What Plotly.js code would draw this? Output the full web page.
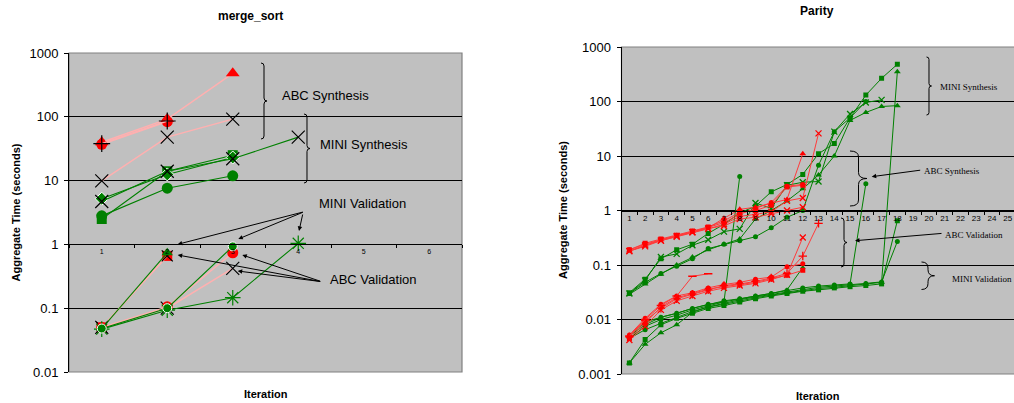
<!DOCTYPE html>
<html><head><meta charset="utf-8">
<script src="https://cdn.plot.ly/plotly-3.0.1.min.js"></script>
<style>html,body{margin:0;padding:0;background:#fff;}#chart{width:1014px;height:403px;}</style>
</head><body><div id="chart"></div>
<script>
// ---------- merge_sort data ----------
const msCats = ['1','2','3','4','5','6'];
const msTickVals = [0.01, 0.1, 1, 10, 100, 1000];
const msTickText = ['0.01','0.1','1','10','100','1000'];
// ABC Synthesis
const msAbcSynTriangle = [40, 92, 480];
const msAbcSynCircle = [37, 84];
const msAbcSynPlus = [38, 86];
const msAbcSynX = [9.9, 48, 92];
// MINI Synthesis
const msMiniSynSquare = [2.5, 14, 25];
const msMiniSynDiamond = [5.2, 12.5, 23];
const msMiniSynX = [4.7, 14, 22, 48];
const msMiniSynCircle = [2.8, 7.6, 11.9];
// MINI Validation
const msMiniValCircle = [0.048, 0.1, 0.93];
const msMiniValStar = [0.047, 0.093, 0.146, 1.04];
const msMiniValTriangle = [0.048, 0.74];
// ABC Validation
const msAbcValSquare = [0.05, 0.66];
const msAbcValCircle = [0.05, 0.105, 0.74];
const msAbcValX1 = [0.05, 0.1, 0.42];
const msAbcValX2 = [0.05, 0.66];

// ---------- Parity data ----------
const parCats = ['1','2','3','4','5','6','7','8','9','10','11','12','13','14','15','16','17','18','19','20','21','22','23','24','25'];
const parTickVals = [0.001, 0.01, 0.1, 1, 10, 100, 1000];
const parTickText = ['0.001','0.01','0.1','1','10','100','1000'];
// ABC Synthesis (red, upper)
const parAbcSyn1 = [0.18,0.23,0.29,0.34,0.41,0.48,0.72,1.05,1.15,1.35,1.6,11];
const parAbcSyn2 = [0.19,0.25,0.30,0.35,0.42,0.50,0.65,0.92,1.0,1.25,2.7,2.9];
const parAbcSyn3 = [0.18,0.22,0.28,0.33,0.40,0.46,0.56,0.78,0.85,0.95,1.5,1.7,26];
const parAbcSyn4 = [0.18,0.23,0.28,0.34,0.40,0.47,0.52,0.70,0.75,0.87,1.0,1.15];
const parAbcSyn5 = [0.19,0.24,0.29,0.35,0.41,0.49,0.60,0.85,1.1,1.4,2.8,3.0];
// MINI Synthesis (green, upper)
const parMiniSyn1 = [0.031,0.055,0.13,0.19,0.24,0.38,0.56,0.9,1.2,2.2,3.0,4.6,11,17,50,131,266,481];
const parMiniSyn2 = [0.030,0.052,0.14,0.16,0.23,0.29,0.41,0.46,1.37,1.1,2.9,3.3,3.4,28,59,96,107];
const parMiniSyn3 = [0.029,0.045,0.068,0.10,0.14,0.19,0.24,0.30,0.70,1.0,1.5,2.5,4.5,10,45,63,81,84];
const parMiniSyn4 = [0.030,0.048,0.07,0.095,0.13,0.2,0.24,0.28,0.33,0.48,0.75,1.0,6.8,28,50,100];
// ABC Validation (red, lower)
const parAbcVal1 = [0.0052,0.0105,0.019,0.027,0.031,0.038,0.044,0.048,0.055,0.06,0.093,0.105];
const parAbcVal2 = [0.0048,0.0095,0.016,0.024,0.029,0.035,0.042,0.045,0.05,0.058,0.07,0.146,0.58];
const parAbcVal3 = [0.0042,0.0075,0.015,0.022,0.027,0.033,0.038,0.042,0.046,0.054,0.066,0.32];
const parAbcVal4 = [0.0045,0.0085,0.017,0.025,0.030,0.036,0.040,0.044,0.048,0.056,0.065,0.08];
const parAbcVal5 = [0.005,0.01,0.018,0.027,0.062,0.069];
// MINI Validation (green, lower)
const parMiniVal1 = [0.0016,0.0043,0.008,0.0105,0.013,0.016,0.018,0.021,0.024,0.027,0.030,0.033,0.035,0.038,0.040,0.042,0.045,0.65];
const parMiniVal2 = [0.0016,0.0035,0.0057,0.008,0.0135,0.017,0.019,0.022,0.025,0.028,0.031,0.034,0.037,0.039,0.042,0.045,0.048,352];
const parMiniVal3 = [0.0045,0.0065,0.0085,0.011,0.014,0.017,0.020,0.023,0.026,0.029,0.032,0.036,0.039,0.041,0.044,0.046,0.049,0.27];
const parMiniVal4 = [0.005,0.009,0.011,0.013,0.016,0.019,0.022,0.024,0.027,0.030,0.034,0.038,0.041,0.043,0.045,3.1];
const parMiniVal5 = [0.0045,0.0075,0.01,0.012,0.015,0.018,0.021,4.2];
const parMiniVal6 = [0.005,0.008,0.011,0.013,0.016,0.019,0.021,0.024,0.027,0.030,0.035,0.09];

// ---------- helpers ----------
const W = 1014, H = 403;
const px = x => x / W;
const py = y => 1 - y / H;
const RED = '#ff0000', PINK = '#ffb0b0', GREEN = '#008000', PRED = '#ff3a3a';

function tr(cats, vals, xa, ya, lc, lw, sym, mc, ms, ml) {
  return {
    type: 'scatter', mode: 'lines+markers', showlegend: false, hoverinfo: 'skip',
    x: cats.slice(0, vals.length), y: vals, xaxis: xa, yaxis: ya,
    line: {color: lc, width: lw},
    marker: {symbol: sym, color: mc, size: ms, line: ml || {width: 0}}
  };
}
const blk = {color: 'black', width: 1.2};
const grnL = {color: GREEN, width: 1.2};
const white = {color: 'white', width: 1};

const data = [
  // merge_sort ABC synthesis
  tr(msCats, msAbcSynX, 'x', 'y', PINK, 1.5, 'x-thin-open', 'black', 13, blk),
  tr(msCats, msAbcSynCircle, 'x', 'y', PINK, 1.5, 'circle', RED, 11),
  tr(msCats, msAbcSynTriangle, 'x', 'y', PINK, 1.5, 'triangle-up', RED, 12),
  tr(msCats, msAbcSynPlus, 'x', 'y', PINK, 1.5, 'cross-thin-open', 'black', 12, blk),
  // merge_sort MINI synthesis
  tr(msCats, msMiniSynCircle, 'x', 'y', GREEN, 1.1, 'circle', GREEN, 11),
  tr(msCats, msMiniSynSquare, 'x', 'y', GREEN, 1.1, 'square', GREEN, 10),
  tr(msCats, msMiniSynDiamond, 'x', 'y', GREEN, 1.1, 'diamond', GREEN, 10, white),
  tr(msCats, msMiniSynX, 'x', 'y', GREEN, 1.1, 'x-thin-open', 'black', 13, blk),
  // merge_sort ABC validation
  tr(msCats, msAbcValSquare, 'x', 'y', PINK, 1.5, 'square', RED, 10),
  tr(msCats, msAbcValX2, 'x', 'y', PINK, 1.5, 'x-thin-open', 'black', 11, blk),
  tr(msCats, msAbcValX1, 'x', 'y', PINK, 1.5, 'x-thin-open', 'black', 13, blk),
  tr(msCats, msAbcValCircle, 'x', 'y', PINK, 1.5, 'circle', RED, 11),
  // merge_sort MINI validation
  tr(msCats, msMiniValTriangle, 'x', 'y', GREEN, 1.1, 'triangle-up', GREEN, 10),
  tr(msCats, msMiniValStar, 'x', 'y', GREEN, 1.1, 'asterisk-open', GREEN, 13, grnL),
  tr(msCats, msMiniValCircle, 'x', 'y', GREEN, 1.1, 'circle', GREEN, 9, white),

  // Parity MINI validation
  tr(parCats, parMiniVal1, 'x2', 'y2', GREEN, 1, 'square', GREEN, 5),
  tr(parCats, parMiniVal2, 'x2', 'y2', GREEN, 1, 'triangle-up', GREEN, 6),
  tr(parCats, parMiniVal3, 'x2', 'y2', GREEN, 1, 'circle', GREEN, 5),
  tr(parCats, parMiniVal4, 'x2', 'y2', GREEN, 1, 'circle', GREEN, 5),
  tr(parCats, parMiniVal5, 'x2', 'y2', GREEN, 1, 'circle', GREEN, 5),
  tr(parCats, parMiniVal6, 'x2', 'y2', GREEN, 1, 'triangle-up', GREEN, 5),
  // Parity ABC validation
  tr(parCats, parAbcVal1, 'x2', 'y2', PRED, 1, 'circle', RED, 5),
  tr(parCats, parAbcVal2, 'x2', 'y2', PRED, 1, 'cross-thin-open', RED, 6, {color: RED, width: 1.3}),
  tr(parCats, parAbcVal3, 'x2', 'y2', PRED, 1, 'x-thin-open', RED, 6, {color: RED, width: 1.3}),
  tr(parCats, parAbcVal4, 'x2', 'y2', PRED, 1, 'square', RED, 5),
  tr(parCats, parAbcVal5, 'x2', 'y2', PRED, 1, 'line-ew-open', RED, 6, {color: RED, width: 1.5}),
  // Parity MINI synthesis
  tr(parCats, parMiniSyn1, 'x2', 'y2', GREEN, 1, 'square', GREEN, 5),
  tr(parCats, parMiniSyn2, 'x2', 'y2', GREEN, 1, 'x-thin-open', GREEN, 6, {color: GREEN, width: 1.3}),
  tr(parCats, parMiniSyn3, 'x2', 'y2', GREEN, 1, 'triangle-up', GREEN, 6),
  tr(parCats, parMiniSyn4, 'x2', 'y2', GREEN, 1, 'circle', GREEN, 5),
  // Parity ABC synthesis
  tr(parCats, parAbcSyn1, 'x2', 'y2', PRED, 1, 'triangle-up', RED, 6),
  tr(parCats, parAbcSyn2, 'x2', 'y2', PRED, 1, 'square', RED, 5),
  tr(parCats, parAbcSyn3, 'x2', 'y2', PRED, 1, 'x-thin-open', RED, 6, {color: RED, width: 1.3}),
  tr(parCats, parAbcSyn4, 'x2', 'y2', PRED, 1, 'x-thin-open', RED, 6, {color: RED, width: 1.3}),
  tr(parCats, parAbcSyn5, 'x2', 'y2', PRED, 1, 'circle', RED, 5)
];

// ---------- annotations ----------
const SANS = 'Liberation Sans, Arial, sans-serif';
const SERIF = 'Liberation Serif, Times New Roman, serif';
function label(text, x, y, size, family, anchor, angle) {
  return {text, xref: 'paper', yref: 'paper', x: px(x), y: py(y), xanchor: anchor || 'left', yanchor: 'middle',
    showarrow: false, textangle: angle || 0, font: {family, size, color: 'black'}};
}
function arrow(tx, ty, hx, hy) {
  return {text: '', xref: 'paper', yref: 'paper', x: px(hx), y: py(hy), ax: tx - hx, ay: ty - hy,
    showarrow: true, arrowhead: 2, arrowsize: 0.9, arrowwidth: 1, arrowcolor: 'black', standoff: 0, startstandoff: 0};
}
const annotations = [
  label('<b>merge_sort</b>', 250.5, 16, 12, SANS, 'center'),
  label('<b>Parity</b>', 817, 11, 12, SANS, 'center'),
  label('<b>Aggregate Time (seconds)</b>', 15, 212.5, 11, SANS, 'center', -90),
  label('<b>Aggregate Time (seconds)</b>', 563, 210, 11, SANS, 'center', -90),
  label('<b>Iteration</b>', 265.5, 394, 11, SANS, 'center'),
  label('<b>Iteration</b>', 818, 396, 11, SANS, 'center'),
  label('ABC Synthesis', 280, 95.7, 13, SANS),
  label('MINI Synthesis', 317.5, 144.3, 13, SANS),
  label('MINI Validation', 316.5, 203.3, 13, SANS),
  label('ABC Validation', 328, 279.3, 13, SANS),
  label('MINI Synthesis', 938, 86.7, 9, SERIF),
  label('ABC Synthesis', 922, 171, 9, SERIF),
  label('ABC Validation', 943, 235, 9, SERIF),
  label('MINI Validation', 949.5, 279.3, 9, SERIF),
  arrow(304.3, 211.7, 177.7, 244.3),
  arrow(304.3, 211.7, 238.3, 239),
  arrow(303, 213, 299, 231),
  arrow(321.7, 281.7, 177.7, 255),
  arrow(321.7, 281.7, 242.3, 255),
  arrow(321.7, 281.7, 237.7, 271),
  arrow(921.7, 170, 871.7, 176.7),
  arrow(943, 233.3, 855, 240.7)
];

// ---------- braces & frames ----------
function brace(x0, yTop, yBot, w) {
  const xm = x0 + w / 2, xt = x0 + w, ym = (yTop + yBot) / 2, r = Math.min(w / 2, 6);
  const P = (x, y) => px(x).toFixed(5) + ',' + py(y).toFixed(5);
  const path = 'M' + P(x0, yTop) + ' Q' + P(xm, yTop) + ' ' + P(xm, yTop + r) +
    ' L' + P(xm, ym - r) + ' Q' + P(xm, ym) + ' ' + P(xt, ym) +
    ' Q' + P(xm, ym) + ' ' + P(xm, ym + r) + ' L' + P(xm, yBot - r) +
    ' Q' + P(xm, yBot) + ' ' + P(x0, yBot);
  return {type: 'path', xref: 'paper', yref: 'paper', path, line: {color: 'black', width: 1}};
}
const shapes = [
  {type: 'rect', xref: 'paper', yref: 'paper', x0: px(69), x1: px(462), y0: py(372), y1: py(53), line: {color: '#808080', width: 1.2}, layer: 'below'},
  {type: 'rect', xref: 'paper', yref: 'paper', x0: px(621.5), x1: px(1016), y0: py(374), y1: py(47), line: {color: '#808080', width: 1.2}, layer: 'below'},
  brace(261, 63, 139, 6),
  brace(304, 114, 183, 6),
  brace(926.5, 57, 115, 5),
  brace(850, 151, 206, 17),
  brace(841, 218, 267, 6),
  brace(921.5, 262, 289.5, 13)
];

const yLeftPx1 = 53 + 3 * (372 - 53) / 5;
const yRightPx1 = 47 + 3 * (374 - 47) / 6;

const layout = {
  width: W, height: H, margin: {l: 0, r: 0, t: 0, b: 0},
  paper_bgcolor: 'white', plot_bgcolor: '#c0c0c0',
  font: {family: SANS, color: 'black'},
  showlegend: false,
  xaxis: {domain: [px(69), px(462)], type: 'category', categoryarray: msCats, range: [-0.5, 5.5],
    anchor: 'free', position: py(yLeftPx1), showline: true, linecolor: 'black', linewidth: 1,
    ticks: 'outside', ticklen: 3, tickcolor: 'black', tickson: 'boundaries', showgrid: false, zeroline: false,
    tickangle: 0, tickfont: {size: 7, family: SANS, color: 'black'}, automargin: false, fixedrange: true},
  yaxis: {domain: [py(372), py(53)], type: 'log', range: [-2, 3], anchor: 'x',
    tickvals: msTickVals, ticktext: msTickText, showline: true, linecolor: 'black', linewidth: 1,
    ticks: 'outside', ticklen: 4, tickcolor: 'black', ticklabelstandoff: 3, showgrid: true, gridcolor: 'black', gridwidth: 1,
    zeroline: false, tickfont: {size: 13, family: SANS, color: 'black'}, automargin: false, fixedrange: true},
  xaxis2: {domain: [px(621.5), 1], type: 'category', categoryarray: parCats, range: [-0.5, 24.4],
    anchor: 'free', position: py(yRightPx1), showline: true, linecolor: 'black', linewidth: 1,
    ticks: 'outside', ticklen: 3, tickcolor: 'black', tickson: 'boundaries', showgrid: false, zeroline: false,
    tickangle: 0, tickfont: {size: 8, family: SANS, color: 'black'}, automargin: false, fixedrange: true},
  yaxis2: {domain: [py(374), py(47)], type: 'log', range: [-3, 3], anchor: 'x2',
    tickvals: parTickVals, ticktext: parTickText, showline: true, linecolor: 'black', linewidth: 1,
    ticks: 'outside', ticklen: 4, tickcolor: 'black', ticklabelstandoff: 3, showgrid: true, gridcolor: 'black', gridwidth: 1,
    zeroline: false, tickfont: {size: 13, family: SANS, color: 'black'}, automargin: false, fixedrange: true},
  annotations, shapes
};

Plotly.newPlot('chart', data, layout, {staticPlot: true, displayModeBar: false});
</script>
</body></html>
